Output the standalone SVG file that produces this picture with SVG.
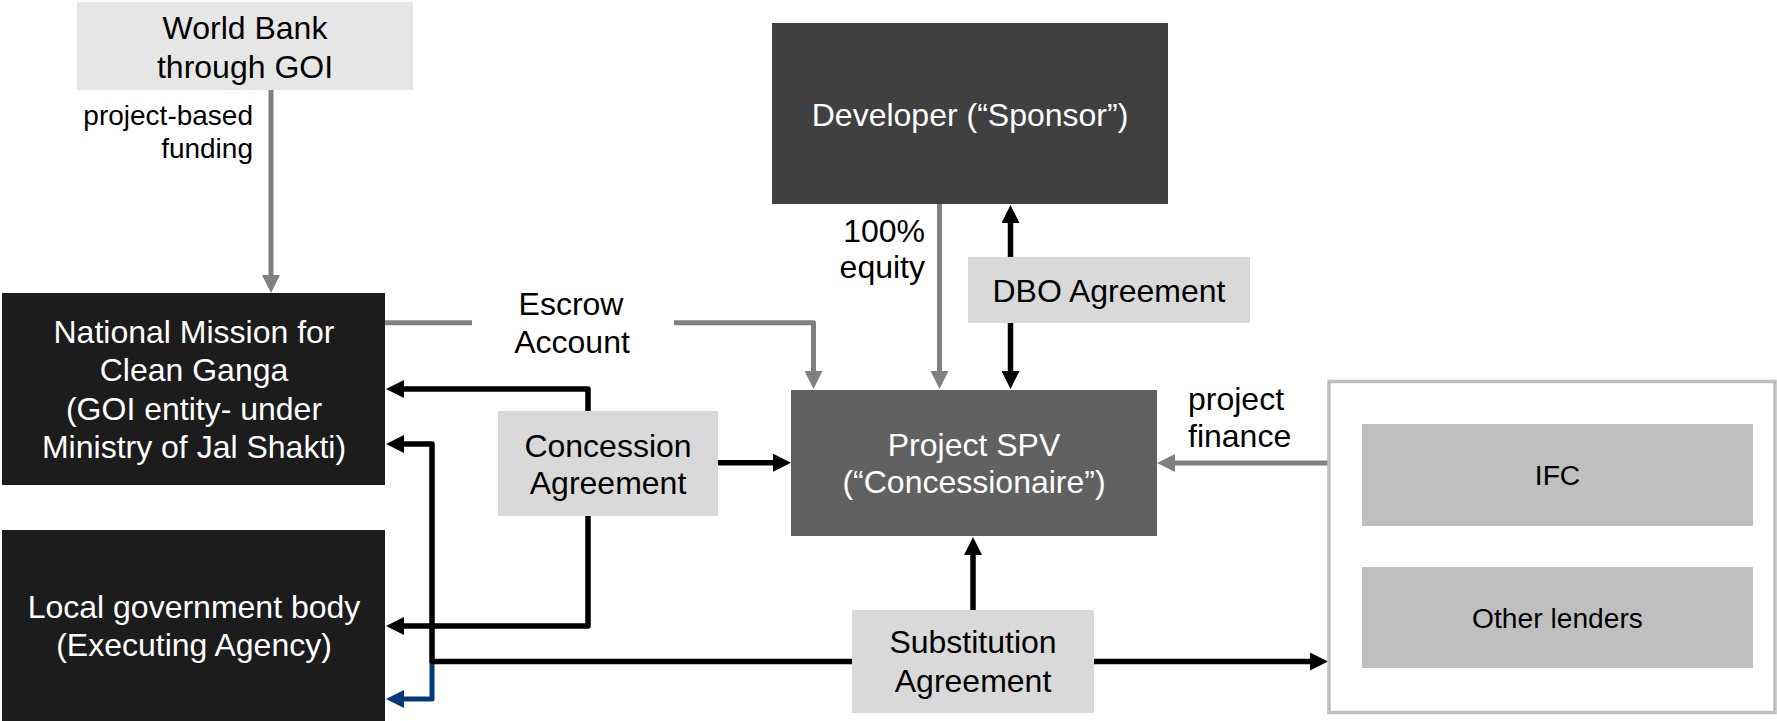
<svg xmlns="http://www.w3.org/2000/svg" width="1777" height="721" viewBox="0 0 1777 721">
<style>
text{font-family:"Liberation Sans",Arial,sans-serif;font-size:32px;text-anchor:middle;fill:#000}
.w{fill:#fff}
.sm{font-size:28.2px}
.lbl{font-size:28px;text-anchor:end}
.r{text-anchor:end}
.l{text-anchor:start}
.blk{fill:none;stroke:#000;stroke-width:5.5;stroke-linejoin:round}
.gry{fill:none;stroke:#808080;stroke-width:5;stroke-linejoin:round}
.blu{fill:none;stroke:#003a78;stroke-width:5;stroke-linejoin:round}
</style>
<defs>
<marker id="ab" markerUnits="userSpaceOnUse" markerWidth="18" markerHeight="18" viewBox="0 0 18 18" refX="2" refY="9" orient="auto-start-reverse"><path d="M0,0L18,9L0,18Z" fill="#000"/></marker>
<marker id="ag" markerUnits="userSpaceOnUse" markerWidth="18" markerHeight="18" viewBox="0 0 18 18" refX="2" refY="9" orient="auto"><path d="M0,0L18,9L0,18Z" fill="#808080"/></marker>
<marker id="au" markerUnits="userSpaceOnUse" markerWidth="18" markerHeight="18" viewBox="0 0 18 18" refX="2" refY="9" orient="auto"><path d="M0,0L18,9L0,18Z" fill="#003a78"/></marker>
</defs>
<rect width="1777" height="721" fill="#fff"/>
<g id="connectors">
<path class="gry" d="M271,90V277" marker-end="url(#ag)"/>
<path class="gry" d="M385,322.7H472"/>
<path class="gry" d="M674,322.7H813.5V373" marker-end="url(#ag)"/>
<path class="gry" d="M939.5,204V373" marker-end="url(#ag)"/>
<path class="blk" d="M1010.5,221V373" marker-start="url(#ab)" marker-end="url(#ab)"/>
<path class="blk" d="M718,462.7H775" marker-end="url(#ab)"/>
<path class="blk" d="M588,411V389H402" marker-end="url(#ab)"/>
<path class="blk" d="M588,516V626H402" marker-end="url(#ab)"/>
<path class="blu" d="M432,661.5V699H402" marker-end="url(#au)"/>
<path class="blk" d="M852,661.5H432V444H402" marker-end="url(#ab)"/>
<path class="blk" d="M973,610V553" marker-end="url(#ab)"/>
<path class="blk" d="M1094,661.5H1312" marker-end="url(#ab)"/>
<path class="gry" d="M1328,463H1173" marker-end="url(#ag)"/>
<text class="lbl" x="253" y="125">project-based</text>
<text class="lbl" x="253" y="158">funding</text>
<text x="571" y="315">Escrow</text>
<text x="572" y="353">Account</text>
<text class="r" x="925" y="242">100%</text>
<text class="r" x="925" y="278">equity</text>
<text class="l" x="1188" y="410">project</text>
<text class="l" x="1188" y="447">finance</text>
</g>
<g id="worldbank">
<rect x="77" y="2" width="336" height="88" fill="#e6e6e6"/>
<text x="245" y="39">World Bank</text>
<text x="245" y="78">through GOI</text>
</g>
<g id="nmcg">
<rect x="2" y="293" width="383" height="192" fill="#1c1c1c"/>
<text class="w" x="194" y="343">National Mission for</text>
<text class="w" x="194" y="381">Clean Ganga</text>
<text class="w" x="194" y="420">(GOI entity- under</text>
<text class="w" x="194" y="458">Ministry of Jal Shakti)</text>
</g>
<g id="localgov">
<rect x="2" y="530" width="383" height="191" fill="#1c1c1c"/>
<text class="w" x="194" y="618">Local government body</text>
<text class="w" x="194" y="656">(Executing Agency)</text>
</g>
<g id="developer">
<rect x="772" y="23" width="396" height="181" fill="#404040"/>
<text class="w" x="970" y="126">Developer (“Sponsor”)</text>
</g>
<g id="dbo">
<rect x="968" y="257" width="282" height="66" fill="#d9d9d9"/>
<text x="1109" y="302">DBO Agreement</text>
</g>
<g id="concession">
<rect x="498" y="411" width="220" height="105" fill="#d9d9d9"/>
<text x="608" y="457">Concession</text>
<text x="608" y="494">Agreement</text>
</g>
<g id="spv">
<rect x="791" y="390" width="366" height="146" fill="#616161"/>
<text class="w" x="974" y="456">Project SPV</text>
<text class="w" x="974" y="493">(“Concessionaire”)</text>
</g>
<g id="substitution">
<rect x="852" y="610" width="242" height="103" fill="#d9d9d9"/>
<text x="973" y="653">Substitution</text>
<text x="973" y="692">Agreement</text>
</g>
<g id="lenders">
<rect x="1329" y="381.5" width="446" height="331" fill="#fff" stroke="#bfbfbf" stroke-width="3.5"/>
</g>
<g id="ifc">
<rect x="1362" y="424" width="391" height="102" fill="#bfbfbf"/>
<text class="sm" x="1557.5" y="485">IFC</text>
</g>
<g id="otherlenders">
<rect x="1362" y="567" width="391" height="101" fill="#bfbfbf"/>
<text class="sm" x="1557.5" y="628">Other lenders</text>
</g>
</svg>
